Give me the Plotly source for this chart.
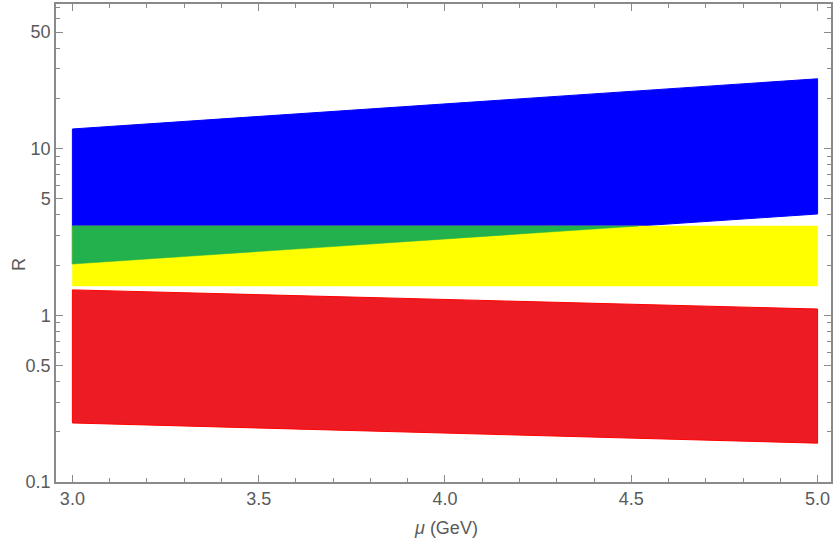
import numpy as np
import plotly.graph_objects as go

# scale range (GeV)
mu = [3.0, 5.0]

# band edges at mu = 3.0 and mu = 5.0
blue_upper = [13.1, 26.2]
blue_lower = [2.03, 4.05]
yellow_upper = [3.43, 3.43]
yellow_lower = [1.50, 1.50]
red_upper = [1.42, 1.09]
red_lower = [0.226, 0.171]

# axis ticks
x_ticks = [3.0, 3.5, 4.0, 4.5, 5.0]
x_tick_text = ["3.0", "3.5", "4.0", "4.5", "5.0"]
x_minor = [3.1, 3.2, 3.3, 3.4, 3.6, 3.7, 3.8, 3.9, 4.1, 4.2, 4.3, 4.4,
           4.6, 4.7, 4.8, 4.9]
y_ticks = [0.1, 0.5, 1, 5, 10, 50]
y_tick_text = ["0.1", "0.5", "1", "5", "10", "50"]
y_minor = [m * d for d in (0.1, 1, 10) for m in (2, 3, 4, 6, 7, 8, 9)
           if m * d not in y_ticks]

BLUE = "#0000FF"
YELLOW = "#FFFF00"
GREEN = "#22B14C"
RED = "#ED1C24"
AXIS = "#8a8a8a"
TEXT = "#5a5a5a"
FONT = "Liberation Sans"
FS = 18


def band(lower, upper):
    xs = [mu[0], mu[1], mu[1], mu[0], mu[0]]
    ys = [lower[0], lower[1], upper[1], upper[0], lower[0]]
    return xs, ys


fig = go.Figure()

bx, by = band(blue_lower, blue_upper)
fig.add_trace(go.Scatter(x=bx, y=by, fill="toself", fillcolor=BLUE,
                         line=dict(color=BLUE, width=1), mode="lines",
                         hoverinfo="skip"))

yx, yy = band(yellow_lower, yellow_upper)
fig.add_trace(go.Scatter(x=yx, y=yy, fill="toself", fillcolor=YELLOW,
                         line=dict(color=YELLOW, width=0.5), mode="lines",
                         hoverinfo="skip"))

# overlap of the blue and yellow bands: the blue lower edge (straight in
# log R) rises through the yellow upper edge at mu_cross
lb = np.log10(blue_lower)
ly = np.log10(yellow_upper[0])
t = (ly - lb[0]) / (lb[1] - lb[0])
mu_cross = mu[0] + t * (mu[1] - mu[0])
gx = [mu[0], mu_cross, mu[0], mu[0]]
gy = [blue_lower[0], yellow_upper[0], yellow_upper[0], blue_lower[0]]
fig.add_trace(go.Scatter(x=gx, y=gy, fill="toself", fillcolor=GREEN,
                         line=dict(color=GREEN, width=0.5), mode="lines",
                         hoverinfo="skip"))

rx, ry = band(red_lower, red_upper)
fig.add_trace(go.Scatter(x=rx, y=ry, fill="toself", fillcolor=RED,
                         line=dict(color="#FF0000", width=1), mode="lines",
                         hoverinfo="skip"))

axis_common = dict(
    showline=True, linecolor=AXIS, linewidth=1.5, mirror="allticks",
    ticks="inside", tickcolor=AXIS, tickwidth=1, showgrid=False,
    zeroline=False, tickfont=dict(family=FONT, size=FS, color=TEXT),
)

fig.update_xaxes(range=[2.956, 5.036], tickvals=x_ticks,
                 ticktext=x_tick_text, ticklen=7,
                 minor=dict(tickvals=x_minor, ticks="inside", ticklen=4,
                            tickcolor=AXIS, showgrid=False),
                 **axis_common)
fig.update_yaxes(type="log", range=[-1, np.log10(73.6)], tickvals=y_ticks,
                 ticktext=y_tick_text, ticklen=7,
                 minor=dict(tickvals=y_minor, ticks="inside", ticklen=4,
                            tickcolor=AXIS, showgrid=False),
                 **axis_common)

fig.add_annotation(text="<i>μ</i> (GeV)", xref="paper", yref="paper",
                   x=0.503, y=-0.072, yanchor="top", showarrow=False,
                   font=dict(family=FONT, size=FS, color=TEXT))
fig.add_annotation(text="R", xref="paper", yref="paper",
                   x=-0.033, y=0.455, xanchor="right", showarrow=False,
                   textangle=-90,
                   font=dict(family=FONT, size=FS, color=TEXT))

fig.update_layout(
    width=834, height=542, showlegend=False,
    margin=dict(l=56, r=1, t=4, b=60),
    plot_bgcolor="white", paper_bgcolor="white",
)

fig.write_html("out.html")
